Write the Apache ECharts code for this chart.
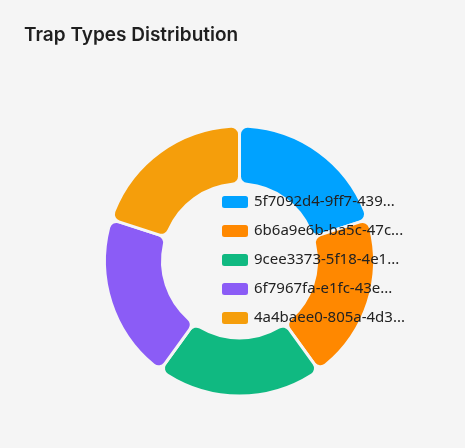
<!DOCTYPE html>
<html>
<head>
<meta charset="utf-8">
<script src="https://cdn.jsdelivr.net/npm/echarts@6/dist/echarts.min.js"></script>
<style>
  html, body { margin: 0; padding: 0; background: #f5f5f5; }
  #chartArea { width: 465px; height: 448px; }
</style>
</head>
<body>
<div id="chartArea"></div>
<script>
// trap type ids (legend shows only the first 17 chars)
var trapTypes = [
  '5f7092d4-9ff7-4390-a1b2-7c3e5d8f0a11',
  '6b6a9e6b-ba5c-47c2-8e41-2d9f0b6a3c57',
  '9cee3373-5f18-4e1a-b7d3-60f4a2c9e815',
  '6f7967fa-e1fc-43e8-9a05-c1d72b4e6f30',
  '4a4baee0-805a-4d3b-92c6-8e5f17a0d4b2'
];
var trapCounts = [1, 1, 1, 1, 1];
var colors = ['#00a2ff', '#ff8800', '#10b981', '#8b5cf6', '#f59e0b'];

var data = [];
for (var i = 0; i < trapTypes.length; i++) {
  data.push({ name: trapTypes[i], value: trapCounts[i] });
}

var myChart = echarts.init(document.getElementById('chartArea'));
myChart.setOption({
  backgroundColor: '#f5f5f5',
  color: colors,
  title: {
    text: 'Trap Types Distribution',
    left: 19,
    top: 21,
    textStyle: {
      fontFamily: 'Inter',
      fontSize: 19,
      fontWeight: 600,
      color: '#1f1f1f'
    }
  },
  legend: {
    orient: 'vertical',
    left: 215,
    top: 189,
    itemWidth: 28,
    itemHeight: 14,
    itemGap: 13,
    icon: 'roundRect',
    formatter: function (name) {
      return name.length > 17 ? name.slice(0, 17) + '...' : name;
    },
    textStyle: {
      fontFamily: 'Noto Sans',
      fontSize: 15,
      color: '#222'
    }
  },
  series: [
    {
      name: 'Trap Types',
      type: 'pie',
      radius: [77, 135],
      center: [239.5, 261],
      startAngle: 90,
      label: { show: false },
      labelLine: { show: false },
      itemStyle: {
        borderRadius: 8,
        borderColor: '#f5f5f5',
        borderWidth: 3
      },
      data: data
    }
  ]
});
</script>
</body>
</html>
